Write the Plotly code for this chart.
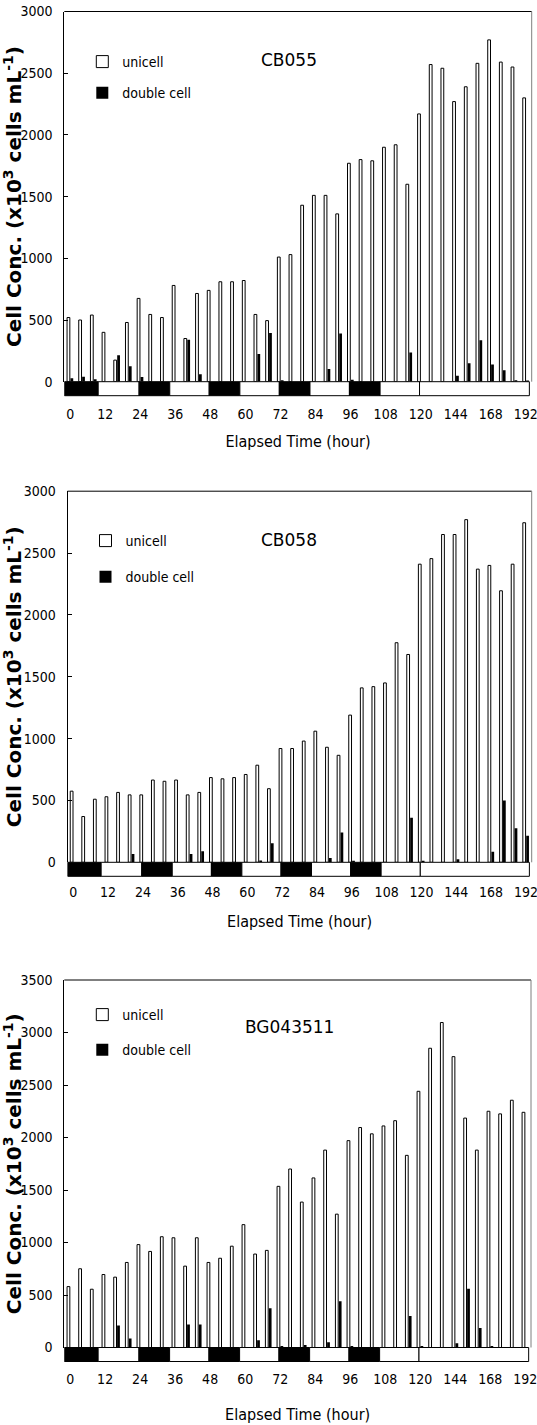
import plotly.graph_objects as go

# ---------------- data ----------------
HOURS = [0, 4, 8, 12, 16, 20, 24, 28, 32, 36, 40, 44, 48, 52, 56, 60, 64, 68, 72, 76,
         80, 84, 88, 92, 96, 100, 104, 108, 112, 116, 120, 128, 136, 144, 152, 160,
         168, 176, 184, 192]
TICK_HOURS = [0, 12, 24, 36, 48, 60, 72, 84, 96, 108, 120, 144, 168, 192]

CB055_UNI = [520, 500, 540, 400, 175, 480, 675, 545, 520, 780, 350, 715, 740, 810, 810,
             820, 545, 495, 1010, 1030, 1430, 1510, 1510, 1360, 1770, 1800, 1790, 1900,
             1920, 1600, 2170, 2570, 2540, 2270, 2390, 2580, 2770, 2590, 2550, 2300]
CB055_DBL = [28, 40, 20, 0, 215, 125, 38, 0, 0, 0, 340, 60, 0, 0, 0, 0, 225, 395, 12, 0,
             0, 0, 103, 390, 15, 0, 0, 0, 0, 237, 0, 0, 0, 48, 150, 335, 140, 92, 12, 10]

CB058_UNI = [575, 370, 510, 530, 565, 545, 545, 665, 655, 665, 545, 565, 685, 675, 685,
             710, 785, 595, 920, 920, 980, 1060, 930, 865, 1190, 1410, 1420, 1450, 1775,
             1680, 2410, 2455, 2650, 2650, 2770, 2370, 2400, 2195, 2410, 2745]
CB058_DBL = [0, 0, 0, 0, 0, 68, 0, 0, 0, 0, 68, 90, 0, 0, 0, 0, 14, 155, 0, 0,
             0, 0, 35, 240, 13, 0, 0, 0, 0, 360, 13, 0, 0, 24, 0, 0, 85, 500, 275, 215]

BG_UNI = [580, 750, 555, 695, 670, 810, 980, 915, 1055, 1045, 775, 1045, 810, 850, 965,
          1170, 890, 925, 1535, 1700, 1385, 1615, 1880, 1270, 1970, 2095, 2035, 2110,
          2160, 1830, 2440, 2850, 3095, 2770, 2185, 1880, 2250, 2225, 2355, 2240]
BG_DBL = [0, 0, 0, 0, 210, 85, 0, 0, 0, 0, 220, 220, 0, 0, 0, 0, 70, 375, 15, 0,
          25, 0, 50, 440, 15, 0, 0, 0, 0, 300, 12, 0, 0, 40, 560, 185, 12, 0, 0, 0]

STRAINS = ["CB055", "CB058", "BG043511"]
Y_MAX = [3000, 3000, 3500]
# dark periods of the light:dark cycle (hours); continuous light after 120 h
DARK_PERIODS_H = [(0, 10), (24, 34.5), (48, 58.5), (72, 82.5), (96, 106.5)]
LD_END_H = 120

# ---------------- layout geometry ----------------
W, H = 537, 1425
PANELS = [  # left px, right px, top px, bottom px
    (64.3, 531.7, 11.5, 381.7),
    (67.5, 531.7, 491.2, 862.3),
    (64.3, 531.0, 980.0, 1347.5),
]
LEG_TOP = [46, 525, 999]
LEG_GAP = [10, 15, 14]
LABEL_Y = [60, 539.5, 1027]
XLABEL_STANDOFF = [22, 20, 21]
XTITLE_STANDOFF = [15, 16, 23]

NARROW = "Liberation Sans Narrow, DejaVu Sans Condensed, Liberation Sans, sans-serif"

hour_str = [str(h) for h in HOURS]
tick_str = [str(h) for h in TICK_HOURS]


def h2i(h):
    # hour -> category position on the (4-hourly) part of the axis
    return h / 4


fig = go.Figure()
data = [(CB055_UNI, CB055_DBL), (CB058_UNI, CB058_DBL), (BG_UNI, BG_DBL)]
shapes = []
annotations = []

for p, ((uni, dbl), name, ymax) in enumerate(zip(data, STRAINS, Y_MAX)):
    n = p + 1
    xs = "x" if n == 1 else f"x{n}"
    ys = "y" if n == 1 else f"y{n}"
    leg = "legend" if n == 1 else f"legend{n}"
    fig.add_trace(go.Bar(x=hour_str, y=uni, name="unicell", xaxis=xs, yaxis=ys,
                         marker=dict(color="white", line=dict(color="black", width=1)),
                         legend=leg, legendgroup=f"u{n}"))
    fig.add_trace(go.Bar(x=hour_str, y=dbl, name="double cell", xaxis=xs, yaxis=ys,
                         marker=dict(color="black", line=dict(color="black", width=0)),
                         legend=leg, legendgroup=f"d{n}"))

    l, r, t, b = PANELS[p]
    xdom = [l / W, r / W]
    ydom = [1 - b / H, 1 - t / H]
    xk = "xaxis" if n == 1 else f"xaxis{n}"
    yk = "yaxis" if n == 1 else f"yaxis{n}"
    fig.layout[xk] = dict(
        domain=xdom, anchor=ys, type="category", categoryorder="array",
        categoryarray=hour_str, range=[-0.5, len(HOURS) - 0.5],
        tickmode="array", tickvals=tick_str, ticktext=tick_str,
        ticks="", ticklabelstandoff=XLABEL_STANDOFF[p], showgrid=False, zeroline=False,
        showline=False, tickfont=dict(family=NARROW, size=14, color="black"),
        title=dict(text="Elapsed Time (hour)", standoff=XTITLE_STANDOFF[p],
                   font=dict(family=NARROW, size=16, color="black")),
        automargin=False,
    )
    fig.layout[yk] = dict(
        domain=ydom, anchor=xs, range=[0, ymax], dtick=500, tick0=0,
        showgrid=False, zeroline=False, showline=True, linecolor="black", linewidth=1,
        ticks="inside", ticklen=4, tickcolor="black", ticklabelstandoff=8,
        tickfont=dict(family=NARROW, size=14, color="black"),
        title=dict(text="Cell Conc. (x10<sup>3</sup> cells mL<sup>-1</sup>)", standoff=6,
                   font=dict(family="DejaVu Sans", size=20, weight="bold", color="black")),
        automargin=False,
    )

    # light:dark strip below the zero line
    ph = b - t
    s0, s1 = -14 / ph, 0
    dom_x = "x domain" if n == 1 else f"x{n} domain"
    dom_y = "y domain" if n == 1 else f"y{n} domain"
    segs = []
    cur = None
    for i, (d0, d1) in enumerate(DARK_PERIODS_H):
        x0 = -0.5 if i == 0 else h2i(d0) - 0.1
        x1 = h2i(d1) - 0.1
        if cur is not None:
            segs.append((cur, x0, "white"))
        segs.append((x0, x1, "black"))
        cur = x1
    end_ld = h2i(LD_END_H) - 0.1
    segs.append((cur, end_ld, "white"))
    segs.append((end_ld, len(HOURS) - 0.7, "white"))
    for (x0, x1, c) in segs:
        shapes.append(dict(type="rect", xref=xs, yref=dom_y, x0=x0, x1=x1, y0=s0, y1=s1,
                           fillcolor=c, line=dict(color="black", width=1), layer="above"))
    # frame: top black, right gray
    shapes.append(dict(type="line", xref=dom_x, yref=dom_y, x0=0, x1=1, y0=1, y1=1,
                       line=dict(color="black", width=1)))
    shapes.append(dict(type="line", xref=dom_x, yref=dom_y, x0=1, x1=1, y0=0, y1=1,
                       line=dict(color="#7f7f7f", width=1)))

    annotations.append(dict(text=name, xref="paper", yref="paper", x=289 / W,
                            y=1 - LABEL_Y[p] / H, showarrow=False, xanchor="center",
                            yanchor="middle",
                            font=dict(family="DejaVu Sans", size=17, color="black")))

    fig.layout[leg] = dict(x=(l + 18) / W, xanchor="left", y=1 - LEG_TOP[p] / H,
                           yanchor="top", bgcolor="rgba(0,0,0,0)", borderwidth=0,
                           traceorder="grouped", tracegroupgap=LEG_GAP[p],
                           itemwidth=30, font=dict(family=NARROW, size=14, color="black"))

fig.update_layout(
    width=W, height=H, margin=dict(l=0, r=0, t=0, b=0),
    paper_bgcolor="white", plot_bgcolor="white",
    barmode="group", bargap=0.42, bargroupgap=0.18,
    shapes=shapes, annotations=annotations, showlegend=True,
)

fig.write_html("out.html")
